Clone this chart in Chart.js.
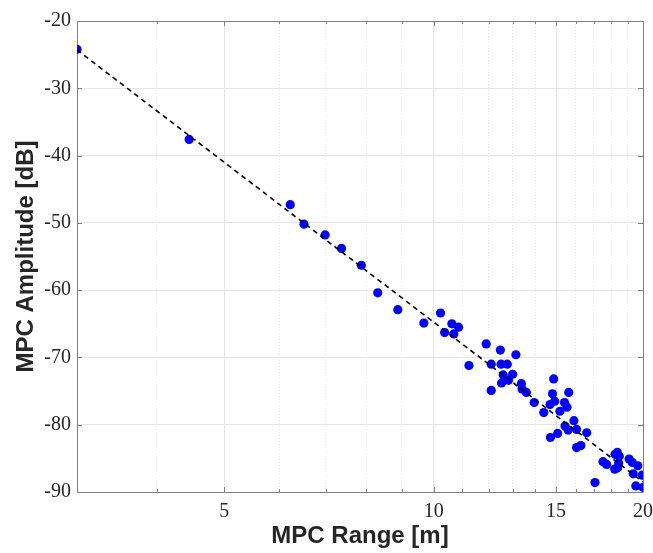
<!DOCTYPE html>
<html><head><meta charset="utf-8">
<script src="https://cdn.jsdelivr.net/npm/chart.js@4/dist/chart.umd.min.js"></script>
<style>html,body{margin:0;padding:0;background:#fff}</style>
</head><body>
<canvas id="c" width="653" height="553" style="display:block;width:653px;height:553px"></canvas>
<script>
// MPC range [m] and amplitude [dB]
const rangeM = [3.07, 4.45, 6.22, 6.51, 6.98, 7.37, 7.87, 8.31, 8.88, 9.68,
  10.23, 10.37, 10.62, 10.86, 10.69, 11.24, 11.90, 12.10, 12.10, 12.47,
  12.50, 12.76, 13.13, 12.59, 12.99, 12.52, 12.81, 13.37, 13.40, 13.59,
  13.95, 14.40, 14.70, 14.82, 14.88, 14.93, 14.72, 15.08, 15.19, 15.42,
  15.55, 15.64, 15.45, 15.61, 15.91, 16.05, 16.60, 16.05, 16.28, 17.06,
  17.52, 17.73, 18.23, 18.37, 18.49, 18.45, 18.21, 18.39, 19.10, 19.30,
  19.66, 19.36, 19.94, 19.53, 20.00];
const amplitudeDb = [-24.2, -37.6, -47.3, -50.2, -51.8, -53.8, -56.3, -60.4, -62.9, -64.9,
  -63.4, -66.3, -65.0, -65.5, -66.5, -71.2, -68.0, -71.0, -74.9, -68.9,
  -71.0, -71.0, -69.6, -72.6, -72.5, -73.8, -73.4, -73.9, -74.7, -75.2,
  -76.7, -78.2, -77.0, -75.4, -73.2, -76.5, -81.9, -81.3, -78.0, -76.7,
  -77.4, -75.2, -80.2, -80.8, -79.4, -80.7, -81.2, -83.4, -83.1, -88.6,
  -85.5, -85.9, -84.4, -84.1, -84.7, -85.7, -86.6, -86.4, -85.1, -85.6,
  -86.1, -87.3, -87.5, -89.1, -89.3];
// fitted path-loss line (end points)
const fitRange = [3.07, 20];
const fitAmplitude = [-24.3, -88.5];
// axes
const xLimits = [3.07, 20];
const yLimits = [-90, -20];
const xMajorTicks = [5, 10, 15, 20];
const xMinorTicks = [4, 6, 7, 8, 9, 11, 12, 13, 14, 16, 17, 18, 19];
const yTicks = [-90, -80, -70, -60, -50, -40, -30, -20];

const AXIS = '#808080';
const TXT = '#262626';
const isMajorX = v => xMajorTicks.includes(v);

const boxPlugin = {
  id: 'box',
  beforeDatasetsDraw(chart) {
    const {ctx, chartArea: a, scales: {x, y}} = chart;
    ctx.save();
    ctx.strokeStyle = AXIS;
    ctx.lineWidth = 1;
    ctx.beginPath();
    ctx.rect(Math.round(a.left) + 0.5, Math.round(a.top) + 0.5,
             Math.round(a.right - a.left), Math.round(a.bottom - a.top));
    ctx.stroke();
    ctx.beginPath();
    for (const v of xMajorTicks.concat(xMinorTicks)) {
      const px = Math.round(x.getPixelForValue(v)) + 0.5;
      const len = isMajorX(v) ? 5 : 3;
      ctx.moveTo(px, a.bottom); ctx.lineTo(px, a.bottom - len);
      ctx.moveTo(px, a.top); ctx.lineTo(px, a.top + len);
    }
    for (const v of yTicks) {
      const py = Math.round(y.getPixelForValue(v)) + 0.5;
      ctx.moveTo(a.left, py); ctx.lineTo(a.left + 5, py);
      ctx.moveTo(a.right, py); ctx.lineTo(a.right - 5, py);
    }
    ctx.stroke();
    ctx.restore();
  }
};

new Chart(document.getElementById('c'), {
  type: 'scatter',
  data: {
    datasets: [
      {
        type: 'line',
        data: fitRange.map((v, i) => ({x: v, y: fitAmplitude[i]})),
        borderColor: '#000000',
        borderWidth: 1.6,
        borderDash: [5, 4],
        pointRadius: 0,
        fill: false,
        order: 0
      },
      {
        data: rangeM.map((v, i) => ({x: v, y: amplitudeDb[i]})),
        backgroundColor: '#0000ff',
        borderColor: '#0000ff',
        borderWidth: 0,
        pointRadius: 4.6,
        pointHoverRadius: 4.6,
        order: 1
      }
    ]
  },
  options: {
    responsive: false,
    animation: false,
    events: [],
    layout: {padding: {top: 21, right: 10, left: 0, bottom: 0}},
    plugins: {legend: {display: false}, tooltip: {enabled: false}},
    scales: {
      x: {
        type: 'logarithmic',
        min: xLimits[0], max: xLimits[1],
        afterBuildTicks: s => {
          s.ticks = xMajorTicks.concat(xMinorTicks).sort((a, b) => a - b).map(v => ({value: v, major: isMajorX(v)}));
        },
        afterFit: s => { s.height = 61; s.paddingRight = 0; s.paddingLeft = 0; },
        ticks: {
          autoSkip: false, maxRotation: 0, minRotation: 0, padding: 8,
          color: TXT,
          font: {family: "'Liberation Serif', serif", size: 20},
          callback: v => isMajorX(v) ? String(v) : ''
        },
        grid: {
          drawTicks: false,
          color: c => isMajorX(c.tick && c.tick.value) ? '#e4e4e4' : '#e9e9e9',
          lineWidth: 1
        },
        border: {display: false, dash: c => isMajorX(c.tick && c.tick.value) ? [] : [1, 2]},
        title: {
          display: true, text: 'MPC Range [m]', color: TXT,
          font: {family: "'Liberation Sans', Arial, sans-serif", weight: 'bold', size: 24},
          padding: {top: 0, bottom: 2}
        }
      },
      y: {
        type: 'linear',
        min: yLimits[0], max: yLimits[1],
        afterBuildTicks: s => { s.ticks = yTicks.map(v => ({value: v})); },
        afterFit: s => { s.width = 77; s.paddingTop = 0; s.paddingBottom = 0; },
        ticks: {
          padding: 6, color: TXT,
          font: {family: "'Liberation Serif', serif", size: 20}
        },
        grid: {drawTicks: false, color: '#e6e6e6', lineWidth: 1},
        border: {display: false},
        title: {
          display: true, text: 'MPC Amplitude [dB]', color: TXT,
          font: {family: "'Liberation Sans', Arial, sans-serif", weight: 'bold', size: 24},
          padding: {top: 12, bottom: 0}
        }
      }
    }
  },
  plugins: [boxPlugin]
});
</script>
</body></html>
